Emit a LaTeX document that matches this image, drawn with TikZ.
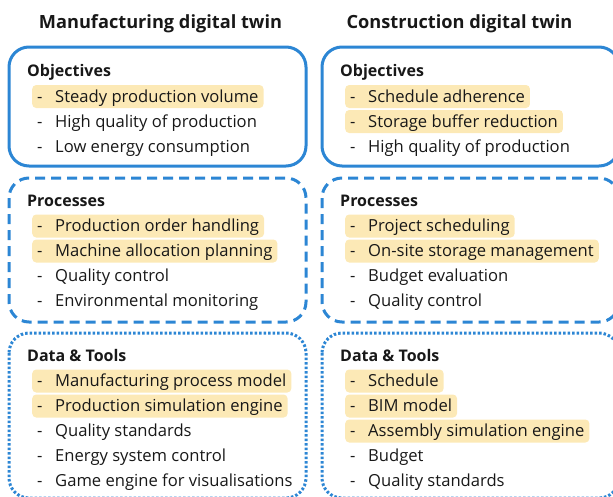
\documentclass[tikz,border=0pt]{standalone}
\usepackage{fontspec}
\setmainfont{Open Sans}
\definecolor{bl}{RGB}{44,134,212}
\definecolor{hl}{RGB}{252,233,182}
\definecolor{tx}{RGB}{24,24,24}
\newcommand{\dsh}{\makebox[18pt][l]{-}}
\begin{document}
\begin{tikzpicture}[x=1pt,y=-1pt,
 box/.style={draw=bl, line width=3pt, rounded corners=20pt},
 dashbox/.style={box, dash pattern=on 10pt off 6pt},
 dotbox/.style={box, dash pattern=on 2.5pt off 2pt},
 ttl/.style={anchor=base, font=\fontsize{18.2}{20}\selectfont\bfseries, text=tx, inner sep=0pt},
 head/.style={anchor=base west, font=\fontsize{16}{18}\selectfont\bfseries, text=tx, inner sep=0pt},
 item/.style={anchor=west, font=\fontsize{16.6}{18}\selectfont, text=tx, inner xsep=5pt, inner ysep=0pt, text height=13pt, text depth=2pt, minimum height=23pt, rounded corners=4pt},
 hi/.style={item, fill=hl}]
\useasboundingbox (0,0) rectangle (613,496);
\clip (0,0) rectangle (613,496);
% titles
\node[ttl] (t1) at (160.5,28) {Manufacturing digital twin};
\node[ttl] (t2) at (459.5,28) {Construction digital twin};
% boxes
\draw[box] (9,47) rectangle (306,166);
\draw[dashbox] (9,178) rectangle (306,322);
\draw[dotbox] (9,333) rectangle (306,498);
\draw[box] (322,47) rectangle (619,166);
\draw[dashbox] (322,178) rectangle (619,322);
\draw[dotbox] (322,333) rectangle (619,498);
% left: objectives
\node[head] (lo) at (27,76) {Objectives};
\node[hi] (lo1) at (32,96.5) {\dsh Steady production volume};
\node[item] (lo2) at (32,121.5) {\dsh High quality of production};
\node[item] (lo3) at (32,146.5) {\dsh Low energy consumption};
% left: processes
\node[head] (lp) at (27,206) {Processes};
\node[hi] (lp1) at (32,226) {\dsh Production order handling};
\node[hi] (lp2) at (32,251) {\dsh Machine allocation planning};
\node[item] (lp3) at (32,276) {\dsh Quality control};
\node[item] (lp4) at (32,301) {\dsh Environmental monitoring};
% left: data
\node[head] (ld) at (27,361) {Data \& Tools};
\node[hi] (ld1) at (32,381) {\dsh Manufacturing process model};
\node[hi] (ld2) at (32,406) {\dsh Production simulation engine};
\node[item] (ld3) at (32,431) {\dsh Quality standards};
\node[item] (ld4) at (32,456) {\dsh Energy system control};
\node[item] (ld5) at (32,481) {\dsh Game engine for visualisations};
% right: objectives
\node[head] (ro) at (340,76) {Objectives};
\node[hi] (ro1) at (345,96.5) {\dsh Schedule adherence};
\node[hi] (ro2) at (345,121.5) {\dsh Storage buffer reduction};
\node[item] (ro3) at (345,146.5) {\dsh High quality of production};
% right: processes
\node[head] (rp) at (340,206) {Processes};
\node[hi] (rp1) at (345,226) {\dsh Project scheduling};
\node[hi] (rp2) at (345,251) {\dsh On-site storage management};
\node[item] (rp3) at (345,276) {\dsh Budget evaluation};
\node[item] (rp4) at (345,301) {\dsh Quality control};
% right: data
\node[head] (rd) at (340,361) {Data \& Tools};
\node[hi] (rd1) at (345,381) {\dsh Schedule};
\node[hi] (rd2) at (345,406) {\dsh BIM model};
\node[hi] (rd3) at (345,431) {\dsh Assembly simulation engine};
\node[item] (rd4) at (345,456) {\dsh Budget};
\node[item] (rd5) at (345,481) {\dsh Quality standards};
\end{tikzpicture}
\end{document}
